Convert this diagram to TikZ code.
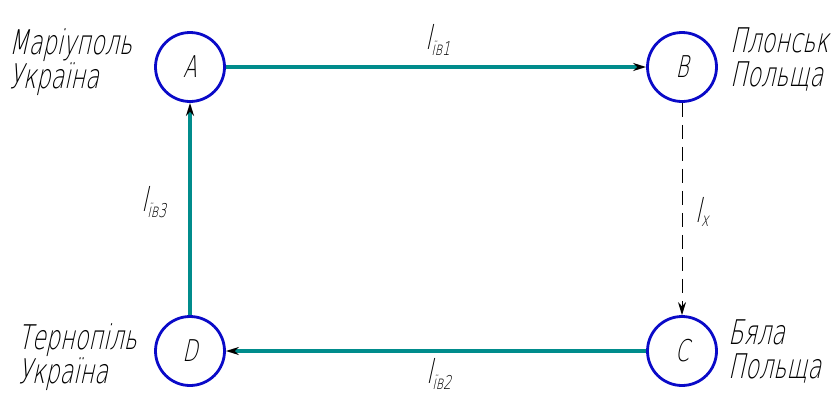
\documentclass[tikz,border=0pt]{standalone}
\usepackage{fontspec}
\newfontfamily\gost[FakeStretch=0.66,FakeSlant=0.22]{DejaVu Sans ExtraLight}
\usetikzlibrary{arrows.meta}
\definecolor{teal1}{RGB}{0,140,140}
\definecolor{cblue}{RGB}{10,10,200}
\tikzset{
  city/.style={circle,draw=cblue,line width=2.8pt,minimum size=69pt,inner sep=0pt,font=\gost\fontsize{30}{30}\selectfont},
  route/.style={draw=teal1,line width=3.6pt,-{Stealth[color=black,length=13pt,width=8pt]}},
  dashroute/.style={draw=black,line width=0.9pt,dash pattern=on 14pt off 8pt,-{Stealth[color=black,length=13pt,width=8pt]}},
  place/.style={align=left,anchor=north west,inner sep=0pt,font=\gost\fontsize{34}{34}\selectfont},
  dist/.style={inner sep=0pt,font=\gost\fontsize{33}{33}\selectfont}
}
\newcommand{\subtxt}[1]{$_{\hbox{\gost\fontsize{19}{19}\selectfont #1}}$}
\begin{document}
\begin{tikzpicture}[x=1pt,y=-1pt]
\useasboundingbox (0,0) rectangle (837,392);
\node[city] (A) at (190,67) {A};
\node[city] (B) at (682,67) {B};
\node[city] (C) at (682,351) {C};
\node[city] (D) at (190,351) {D};
\draw[route] (A) -- (B);
\draw[route] (C) -- (D);
\draw[route] (D) -- (A);
\draw[dashroute] (B) -- (C);
\node[place] (tA) at (9,28) {Маріуполь\\Україна};
\node[place] (tB) at (730,28) {Плонськ\\Польща};
\node[place] (tD) at (18,323) {Тернопіль\\Україна};
\node[place] (tC) at (728,320) {Бяла\\Польща};
\node[dist] (l1) at (438,40) {l\subtxt{їв1}};
\node[dist] (l2) at (439,374) {l\subtxt{їв2}};
\node[dist] (l3) at (154,202) {l\subtxt{їв3}};
\node[dist] (lx) at (702,212) {l\subtxt{x}};
\end{tikzpicture}
\end{document}
